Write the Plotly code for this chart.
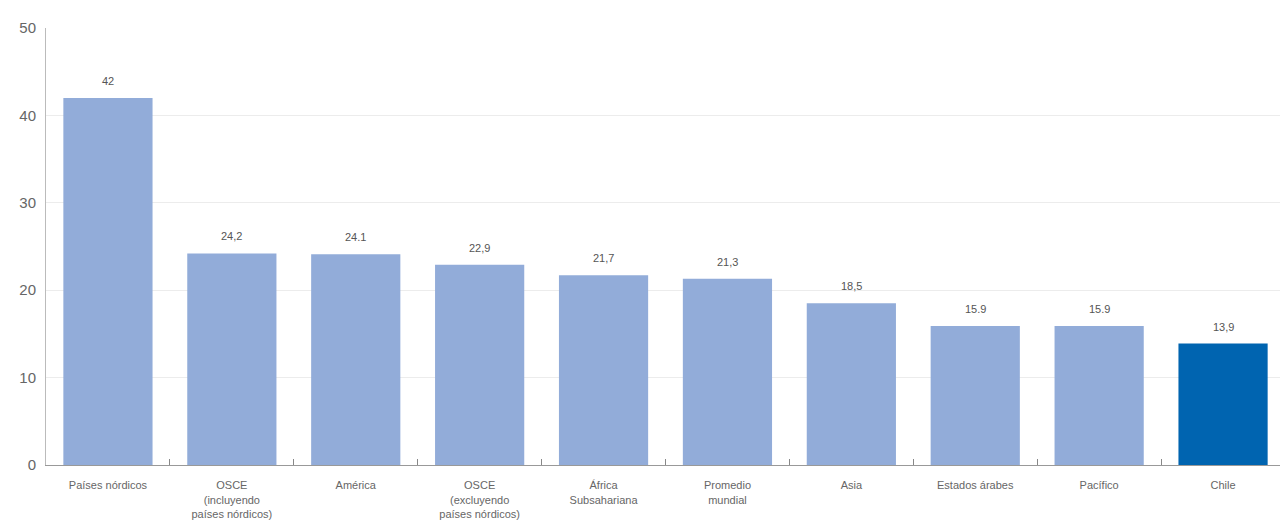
import plotly.graph_objects as go

categories = ["Países nórdicos", "OSCE<br>(incluyendo<br>países nórdicos)", "América",
              "OSCE<br>(excluyendo<br>países nórdicos)", "África<br>Subsahariana",
              "Promedio<br>mundial", "Asia", "Estados árabes", "Pacífico", "Chile"]
values = [42, 24.2, 24.1, 22.9, 21.7, 21.3, 18.5, 15.9, 15.9, 13.9]
value_labels = ["42", "24,2", "24.1", "22,9", "21,7", "21,3", "18,5", "15.9", "15.9", "13,9"]
y_ticks = [0, 10, 20, 30, 40, 50]

light = "#92acd9"
dark = "#0064b0"
colors = [dark if c == "Chile" else light for c in categories]

fig = go.Figure()
fig.add_trace(go.Bar(x=categories, y=values, marker=dict(color=colors, line=dict(width=0)),
                     hoverinfo="skip"))

for c, v, t in zip(categories, values, value_labels):
    fig.add_annotation(x=c, y=v, text=t, showarrow=False, yshift=17,
                       font=dict(family="Liberation Sans, Arial", size=11, color="#555"))

fig.update_layout(
    width=1288, height=532,
    margin=dict(l=37, r=11, t=11, b=75),
    paper_bgcolor="white", plot_bgcolor="white",
    bargap=0.28, showlegend=False,
    font=dict(family="Liberation Sans, Arial", color="#555"),
)
fig.update_xaxes(
    type="category", showline=True, linecolor="#999", linewidth=1,
    ticks="inside", tickson="boundaries", ticklen=6, tickcolor="#888",
    tickfont=dict(size=11, color="#666"), showgrid=False, ticklabelstandoff=10,
)
fig.update_yaxes(
    range=[0, 50], tickvals=y_ticks, showline=True, linecolor="#bbb", linewidth=1,
    gridcolor="#ececec", gridwidth=1, zeroline=False,
    tickfont=dict(size=15, color="#666"), ticks="", ticklabelstandoff=6,
)

fig.write_html("out.html")
